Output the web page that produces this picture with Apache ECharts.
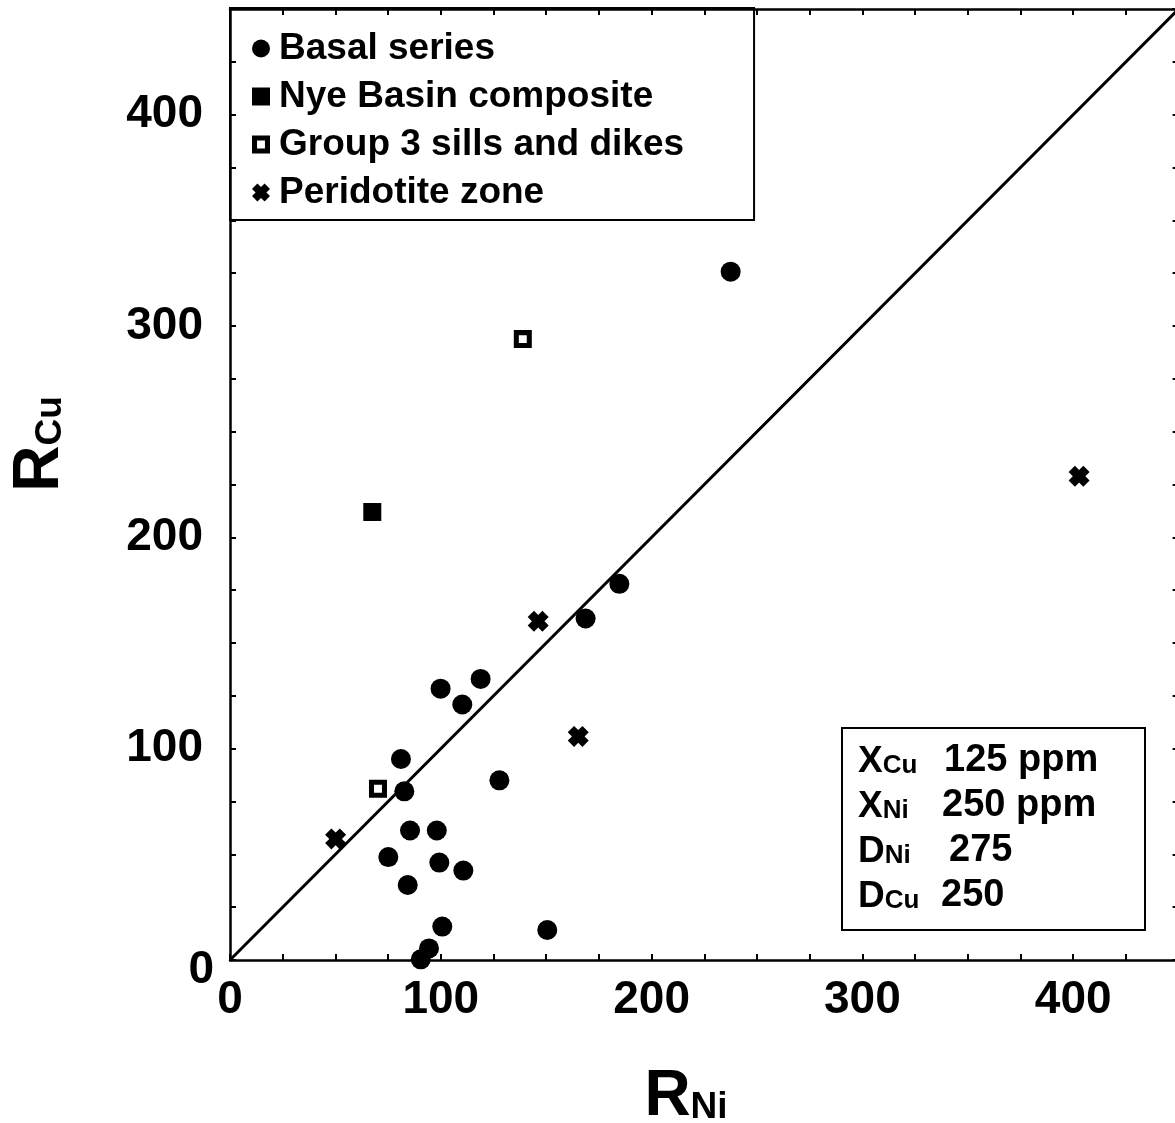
<!DOCTYPE html>
<html><head><meta charset="utf-8">
<script src="https://cdn.jsdelivr.net/npm/echarts@6/dist/echarts.min.js"></script>
<style>html,body{margin:0;padding:0;background:#fff}#c{width:1175px;height:1123px}</style>
</head><body><div id="c"></div>
<script>
// ---- data ----
const basalSeries = [
  [237.5,325.7],[184.7,178.0],[168.7,161.6],[99.9,128.4],[118.9,133.0],
  [110.2,120.9],[81.1,95.1],[82.7,79.8],[127.8,85.0],[85.4,61.3],
  [98.1,61.3],[75.1,48.7],[99.3,46.1],[110.7,42.3],[84.3,35.5],
  [100.7,15.8],[150.5,14.2],[94.4,5.5],[90.5,0.3]
];
const nyeBasinComposite = [[67.5,212.0]];
const group3SillsDikes = [[138.9,293.8],[70.2,81.0]];
const peridotiteZone = [[50.1,57.3],[165.2,105.8],[146.2,160.3],[402.8,228.9]];
const equalityLine = [[0,0],[450,450]];
const seriesNames = ['Basal series','Nye Basin composite','Group 3 sills and dikes','Peridotite zone'];
const axisMin = 0, axisMax = 450, tickStep = 25, labelStep = 100;
const paramRows = [['X','Cu','125 ppm'],['X','Ni','250 ppm'],['D','Ni','275'],['D','Cu','250']];

const FONT = '"Liberation Sans", Arial, Helvetica, sans-serif';
const BLACK = '#000';
const xSymbol = 'path://M0,3L3,0L5,2L7,0L10,3L8,5L10,7L7,10L5,8L3,10L0,7L2,5Z';
const openSquare = 'path://M0,0H10V10H0Z M2.8,2.8V7.2H7.2V2.8Z';

const chart = echarts.init(document.getElementById('c'), null, {renderer:'canvas'});

function baseAxis(pos, showLabel, isY) {
  const ax = {
    type:'value', min:axisMin, max:axisMax, interval:tickStep, position:pos,
    axisLine:{show:true, onZero:false, lineStyle:{color:BLACK, width:2.5}},
    axisTick:{show:true, inside:true, length:6, lineStyle:{color:BLACK, width:2}},
    splitLine:{show:false},
    axisLabel:{show:false}
  };
  if (showLabel) {
    if (isY) {
      ax.axisLabel = {
        show:true, margin:16,
        formatter: v => v % labelStep !== 0 ? '' : (v === 0 ? '{z|0}' : '{n|' + v + '}'),
        rich:{
          n:{fontSize:46, fontWeight:'bold', fontFamily:FONT, color:BLACK, padding:[0,11,0,0]},
          z:{fontSize:46, fontWeight:'bold', fontFamily:FONT, color:BLACK, padding:[20,0,0,0]}
        }
      };
    } else {
      ax.axisLabel = {
        show:true, margin:17, fontSize:46, fontWeight:'bold', fontFamily:FONT, color:BLACK,
        formatter: v => v % labelStep !== 0 ? '' : String(v)
      };
    }
  }
  return ax;
}

function subRich(big, small) {
  return {
    a:{fontSize:big, fontWeight:'bold', fontFamily:FONT, fill:BLACK, verticalAlign:'bottom', lineHeight:big},
    b:{fontSize:small, fontWeight:'bold', fontFamily:FONT, fill:BLACK, verticalAlign:'bottom', lineHeight:small,
       padding:[0,0,Math.round((big-small)*0.1),0]}
  };
}

const graphics = [
  {type:'rect', shape:{x:842, y:728, width:303, height:202}, style:{fill:'none', stroke:BLACK, lineWidth:2}, z:10},
  {type:'text', x:686, y:1129, style:{
    text:'{a|R}{b|Ni}', align:'center', verticalAlign:'bottom', rich:subRich(64,37)
  }},
  {type:'text', x:72, y:444, rotation:Math.PI/2, style:{
    text:'{a|R}{b|Cu}', align:'center', verticalAlign:'bottom', rich:subRich(64,37)
  }}
];
const rowBottoms = [780, 825, 870, 915];
const valueX = [944, 942, 949, 941];
paramRows.forEach((r, i) => {
  graphics.push({type:'text', x:858, y:rowBottoms[i], z:10, style:{
    text:'{a|' + r[0] + '}{b|' + r[1] + '}', align:'left', verticalAlign:'bottom', rich:subRich(37,26)
  }});
  graphics.push({type:'text', x:valueX[i], y:rowBottoms[i], z:10, style:{
    text:'{a|' + r[2] + '}', align:'left', verticalAlign:'bottom', rich:subRich(38,26)
  }});
});

chart.setOption({
  backgroundColor:'#fff',
  animation:false,
  grid:{left:230, top:9, width:948.6, height:951, outerBoundsMode:'none', containLabel:false},
  xAxis:[baseAxis('bottom', true, false), baseAxis('top', false, false)],
  yAxis:[baseAxis('left', true, true), baseAxis('right', false, true)],
  legend:{
    data:seriesNames, orient:'vertical', left:230, top:8,
    padding:[22, 70, 9, 22], itemGap:11, itemWidth:18, itemHeight:18,
    borderColor:BLACK, borderWidth:2, backgroundColor:'transparent',
    itemStyle:{opacity:1},
    textStyle:{fontSize:37, fontWeight:'bold', fontFamily:FONT, color:BLACK, lineHeight:37, padding:[0,0,0,4]},
    selectedMode:false
  },
  series:[
    {name:'line', type:'line', data:equalityLine, showSymbol:false, symbol:'none', silent:true,
     lineStyle:{color:BLACK, width:3}, z:1},
    {name:seriesNames[0], type:'scatter', data:basalSeries, symbol:'circle', symbolSize:20,
     itemStyle:{color:BLACK, opacity:1}, z:3},
    {name:seriesNames[1], type:'scatter', data:nyeBasinComposite, symbol:'rect', symbolSize:18,
     itemStyle:{color:BLACK, opacity:1}, z:3},
    {name:seriesNames[2], type:'scatter', data:group3SillsDikes, symbol:openSquare, symbolSize:18,
     itemStyle:{color:BLACK, opacity:1}, z:3},
    {name:seriesNames[3], type:'scatter', data:peridotiteZone, symbol:xSymbol, symbolSize:21,
     itemStyle:{color:BLACK, opacity:1}, z:3}
  ],
  graphic:graphics
});
</script></body></html>
